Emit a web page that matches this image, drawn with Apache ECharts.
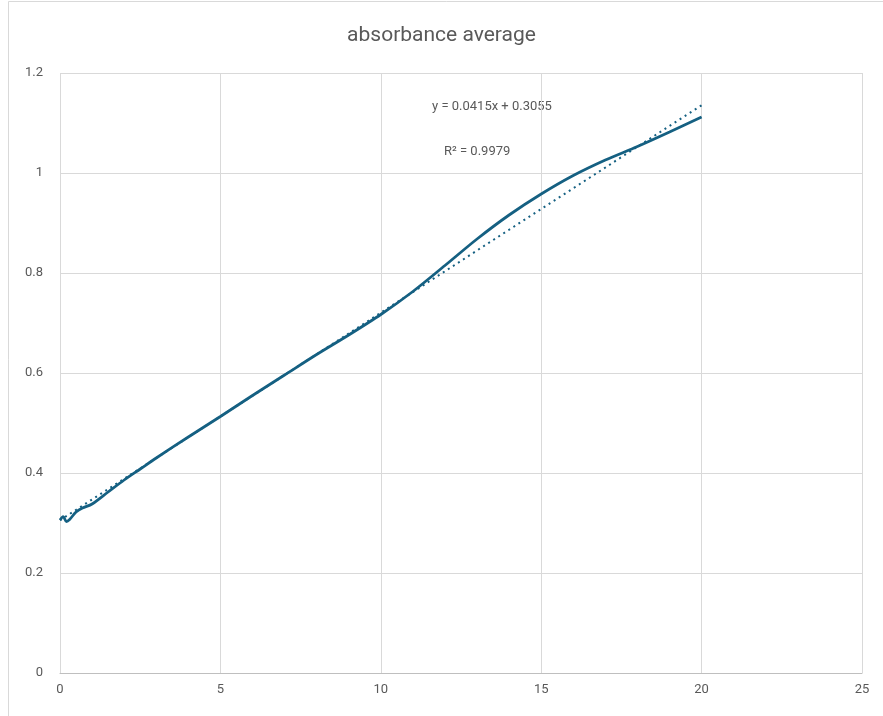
<!DOCTYPE html>
<html>
<head>
<meta charset="utf-8">
<script src="https://cdn.jsdelivr.net/npm/echarts@6/dist/echarts.min.js"></script>
<style>html,body{margin:0;padding:0;background:#fff}#c{width:883px;height:716px}</style>
</head>
<body>
<div id="c"></div>
<script>
const titleText = 'absorbance average';
const xValues = [0, 0.1, 0.2, 0.3, 0.5, 0.7, 1, 1.5, 2, 2.5, 3, 4, 5, 6, 7, 8, 9, 10, 11, 12, 13, 14, 15, 16, 17, 18, 19, 20];
const absorbance = [0.306, 0.313, 0.303, 0.307, 0.322, 0.330, 0.338, 0.362, 0.386, 0.408, 0.430, 0.472, 0.513, 0.555, 0.596, 0.637, 0.676, 0.717, 0.763, 0.815, 0.868, 0.916, 0.958, 0.995, 1.026, 1.053, 1.082, 1.112];
const trendX = [0, 20];
const trendY = [0.3055, 1.1355];
const equationText = 'y = 0.0415x + 0.3055';
const r2Text = 'R² = 0.9979';
const xTicks = [0, 5, 10, 15, 20, 25];
const yTicks = [0, 0.2, 0.4, 0.6, 0.8, 1, 1.2];

const chart = echarts.init(document.getElementById('c'), null, {renderer: 'canvas'});
const fontFam = 'Roboto, "Liberation Sans", sans-serif';
chart.setOption({
  animation: false,
  backgroundColor: '#fff',
  title: {
    text: titleText, left: 'center', top: 20,
    textStyle: {color: '#595959', fontSize: 21, fontWeight: 'normal', fontFamily: fontFam}
  },
  grid: {left: 60, right: 21, top: 73, bottom: 43},
  xAxis: {
    type: 'value', min: xTicks[0], max: xTicks[xTicks.length - 1], interval: 5,
    axisLine: {show: true, lineStyle: {color: '#bfbfbf', width: 1}},
    axisTick: {show: false},
    axisLabel: {color: '#595959', fontSize: 13, margin: 10, fontFamily: fontFam},
    splitLine: {show: true, lineStyle: {color: '#d9d9d9', width: 1}}
  },
  yAxis: {
    type: 'value', min: yTicks[0], max: yTicks[yTicks.length - 1], interval: 0.2,
    axisLine: {show: false},
    axisTick: {show: false},
    axisLabel: {color: '#595959', fontSize: 13, margin: 17, fontFamily: fontFam,
      formatter: v => String(Math.round(v * 10) / 10)},
    splitLine: {show: true, lineStyle: {color: '#d9d9d9', width: 1}}
  },
  graphic: [
    {type: 'rect', shape: {x: 8.5, y: 1.5, width: 890, height: 730}, style: {fill: 'none', stroke: '#d9d9d9', lineWidth: 1}, silent: true, z: -1},
    {type: 'text', left: 432, top: 100, style: {text: equationText, fill: '#595959', font: '13px ' + fontFam}},
    {type: 'text', left: 444, top: 145, style: {text: r2Text, fill: '#595959', font: '13px ' + fontFam}}
  ],
  series: [
    {
      type: 'line', name: 'absorbance average',
      data: xValues.map((x, i) => [x, absorbance[i]]),
      smooth: 0.3, showSymbol: false, symbol: 'none',
      lineStyle: {color: '#156082', width: 2.75}
    },
    {
      type: 'line', name: 'trend',
      data: trendX.map((x, i) => [x, trendY[i]]),
      showSymbol: false, symbol: 'none',
      lineStyle: {color: '#156082', width: 2, type: [2, 4]}
    }
  ]
});
</script>
</body>
</html>
